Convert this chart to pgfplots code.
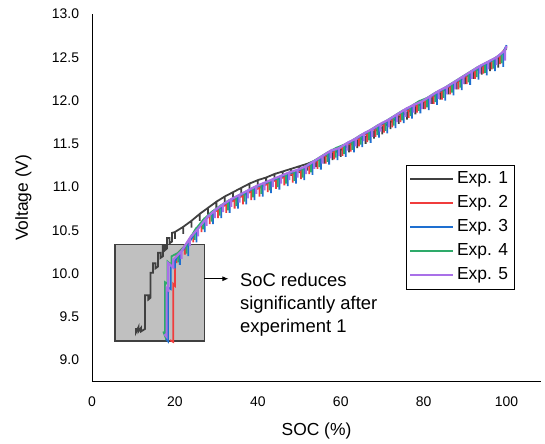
\documentclass[border=0pt]{standalone}
\usepackage{fontspec}
\setmainfont{Liberation Sans}
\usepackage{pgfplots}
\pgfplotsset{compat=1.18}
\usetikzlibrary{arrows.meta}

\definecolor{expone}{HTML}{404040}
\definecolor{exptwo}{HTML}{F03C3C}
\definecolor{expthree}{HTML}{1E6FD0}
\definecolor{expfour}{HTML}{2EAA6A}
\definecolor{expfive}{HTML}{A970E8}
\definecolor{boxgray}{HTML}{C0C0C0}

\begin{document}
\begin{tikzpicture}
\begin{axis}[
  name=ax,
  scale only axis,
  width=449bp, height=367.7bp,
  xmin=0, xmax=108.3,
  ymin=8.75, ymax=13.0,
  axis x line=bottom, axis y line=left,
  axis line style={-, line width=0.8pt, black},
  major tick length=0pt,
  xtick={0,20,40,60,80,100},
  ytick={9,9.5,10,10.5,11,11.5,12,12.5,13},
  /pgf/number format/assume math mode=true,
  tick label style={font=\fontsize{14}{16}\selectfont},
  yticklabel style={/pgf/number format/fixed, /pgf/number format/fixed zerofill,
    /pgf/number format/precision=1, inner sep=0pt, anchor=east, xshift=-12.7bp},
  xticklabel style={inner sep=0pt, anchor=center, yshift=-20bp},
  xlabel={SOC (\%)}, ylabel={Voltage (V)},
  label style={font=\fontsize{17.5}{20}\selectfont},
  x label style={at={(axis description cs:0.5,-0.134)}, anchor=center},
  y label style={at={(axis description cs:-0.1526,0.5)}, anchor=center},
  legend style={at={(0.9405,0.589)}, anchor=north east, draw=black,
    font=\fontsize{17.5}{20}\selectfont, row sep=0pt,
    nodes={text height=12.5bp, text depth=3.5bp, inner ysep=4bp, inner xsep=3bp}},
  legend cell align=left,
  legend image code/.code={\draw[#1] (0bp,0bp) -- (43bp,0bp);},
  legend image post style={line width=1.8pt},
]
% annotation box behind the curves
\draw[fill=boxgray, draw=expone, line width=1.2pt] (axis cs:5.54,9.22) rectangle (axis cs:27.06,10.34);

% Exp. 1
\addplot[expone, line width=1.8pt] coordinates {
(10.6,9.37) (10.6,9.32) (11.2,9.38) (11.2,9.33) (11.8,9.37) (11.8,9.33) (12.8,9.36) (12.8,9.75)
(13.6,9.75) (13.6,9.70) (14.1,9.72) (14.1,10.01) (14.7,10.01) (14.7,10.12) (15.3,10.12) (15.3,10.06)
(15.9,10.08) (15.9,10.24) (16.5,10.24) (16.5,10.18) (17.1,10.20) (17.1,10.33) (17.6,10.33) (17.6,10.27)
(18.1,10.29) (18.1,10.41) (18.7,10.41) (18.7,10.35) (19.3,10.37) (19.3,10.47)
(20,10.48) (20,10.40) (20,10.48) (22,10.54) (22,10.46) (22,10.54) (24,10.61) (24,10.53) (24,10.61)
(26,10.69) (26,10.61) (26,10.69) (28,10.76) (28,10.68) (28,10.76) (30,10.83) (30,10.75) (30,10.83)
(32,10.89) (32,10.81) (32,10.89) (34,10.94) (34,10.86) (34,10.94) (36,10.99) (36,10.91) (36,10.99)
(38,11.04) (38,10.96) (38,11.04) (40,11.08) (40,11.00) (40,11.08) (42,11.11) (42,11.03) (42,11.11)
(44,11.15) (44,11.07) (44,11.15) (46,11.18) (46,11.10) (46,11.18) (48,11.21) (48,11.13) (48,11.21)
(50,11.24) (50,11.16) (50,11.24) (52,11.27) (52,11.19) (52,11.27) (54,11.31) (54,11.23) (54,11.31)
(56,11.35) (56,11.27) (56,11.35) (58,11.39) (58,11.31) (58,11.39) (60,11.43) (60,11.35) (60,11.43)
(62,11.48) (62,11.40) (62,11.48) (64,11.53) (64,11.45) (64,11.53) (66,11.58) (66,11.50) (66,11.58)
(68,11.64) (68,11.56) (68,11.64) (70,11.69) (70,11.61) (70,11.69) (72,11.75) (72,11.67) (72,11.75)
(74,11.81) (74,11.73) (74,11.81) (76,11.86) (76,11.78) (76,11.86) (78,11.92) (78,11.84) (78,11.92)
(80,11.98) (80,11.90) (80,11.98) (82,12.04) (82,11.96) (82,12.04) (84,12.09) (84,12.01) (84,12.09)
(86,12.15) (86,12.07) (86,12.15) (88,12.21) (88,12.13) (88,12.21) (90,12.27) (90,12.19) (90,12.27)
(92,12.33) (92,12.25) (92,12.33) (94,12.39) (94,12.30) (94,12.39) (96,12.45) (96,12.34) (96,12.45)
(98,12.51) (98,12.38) (98,12.51) (100,12.60)
};
\addlegendentry{Exp. 1}

% Exp. 2
\addplot[exptwo, line width=1.8pt] coordinates {
(18.8,9.23) (19.6,9.21) (19.6,9.88) (20.0,9.86) (20.0,10.12)
(20.4,10.22) (20.4,10.12) (20.4,10.22) (22.4,10.32) (22.4,10.22) (22.4,10.32) (24.4,10.46) (24.4,10.36) (24.4,10.46)
(26.4,10.58) (26.4,10.48) (26.4,10.58) (28.4,10.67) (28.4,10.57) (28.4,10.67) (30.4,10.74) (30.4,10.64) (30.4,10.74)
(32.4,10.80) (32.4,10.70) (32.4,10.80) (34.4,10.85) (34.4,10.75) (34.4,10.85) (36.4,10.90) (36.4,10.80) (36.4,10.90)
(38.4,10.95) (38.4,10.85) (38.4,10.95) (40.4,10.99) (40.4,10.89) (40.4,10.99) (42.4,11.04) (42.4,10.94) (42.4,11.04)
(44.4,11.08) (44.4,10.98) (44.4,11.08) (46.4,11.12) (46.4,11.02) (46.4,11.12) (48.4,11.15) (48.4,11.05) (48.4,11.15)
(50.4,11.19) (50.4,11.09) (50.4,11.19) (52.4,11.25) (52.4,11.15) (52.4,11.25) (54.4,11.31) (54.4,11.21) (54.4,11.31)
(56.4,11.37) (56.4,11.27) (56.4,11.37) (58.4,11.42) (58.4,11.32) (58.4,11.42) (60.4,11.46) (60.4,11.36) (60.4,11.46)
(62.4,11.51) (62.4,11.41) (62.4,11.51) (64.4,11.57) (64.4,11.47) (64.4,11.57) (66.4,11.62) (66.4,11.52) (66.4,11.62)
(68.4,11.68) (68.4,11.58) (68.4,11.68) (70.4,11.73) (70.4,11.63) (70.4,11.73) (72.4,11.79) (72.4,11.69) (72.4,11.79)
(74.4,11.85) (74.4,11.75) (74.4,11.85) (76.4,11.90) (76.4,11.80) (76.4,11.90) (78.4,11.96) (78.4,11.86) (78.4,11.96)
(80.4,12.00) (80.4,11.90) (80.4,12.00) (82.4,12.06) (82.4,11.96) (82.4,12.06) (84.4,12.11) (84.4,12.01) (84.4,12.11)
(86.4,12.17) (86.4,12.07) (86.4,12.17) (88.4,12.23) (88.4,12.13) (88.4,12.23) (90.4,12.29) (90.4,12.19) (90.4,12.29)
(92.4,12.35) (92.4,12.25) (92.4,12.35) (94.4,12.41) (94.4,12.31) (94.4,12.41) (96.4,12.46) (96.4,12.36) (96.4,12.46)
(98.4,12.52) (98.4,12.42) (98.4,12.52) (100,12.62)
};
\addlegendentry{Exp. 2}

% Exp. 3
\addplot[expthree, line width=1.8pt] coordinates {
(17.8,9.25) (18.3,9.22) (18.3,9.84) (19.0,9.82) (19.0,10.10) (20.0,10.14) (20.0,10.06) (20.0,10.14)
(21.2,10.24) (21.2,10.10) (21.2,10.24) (23.2,10.34) (23.2,10.20) (23.2,10.34) (25.2,10.50) (25.2,10.36) (25.2,10.50)
(27.2,10.62) (27.2,10.48) (27.2,10.62) (29.2,10.71) (29.2,10.57) (29.2,10.71) (31.2,10.78) (31.2,10.64) (31.2,10.78)
(33.2,10.84) (33.2,10.70) (33.2,10.84) (35.2,10.89) (35.2,10.75) (35.2,10.89) (37.2,10.94) (37.2,10.80) (37.2,10.94)
(39.2,10.99) (39.2,10.85) (39.2,10.99) (41.2,11.03) (41.2,10.89) (41.2,11.03) (43.2,11.07) (43.2,10.93) (43.2,11.07)
(45.2,11.11) (45.2,10.97) (45.2,11.11) (47.2,11.15) (47.2,11.01) (47.2,11.15) (49.2,11.18) (49.2,11.04) (49.2,11.18)
(51.2,11.22) (51.2,11.08) (51.2,11.22) (53.2,11.28) (53.2,11.14) (53.2,11.28) (55.2,11.34) (55.2,11.20) (55.2,11.34)
(57.2,11.40) (57.2,11.26) (57.2,11.40) (59.2,11.45) (59.2,11.31) (59.2,11.45) (61.2,11.49) (61.2,11.35) (61.2,11.49)
(63.2,11.54) (63.2,11.40) (63.2,11.54) (65.2,11.60) (65.2,11.46) (65.2,11.60) (67.2,11.65) (67.2,11.51) (67.2,11.65)
(69.2,11.71) (69.2,11.57) (69.2,11.71) (71.2,11.76) (71.2,11.62) (71.2,11.76) (73.2,11.82) (73.2,11.68) (73.2,11.82)
(75.2,11.88) (75.2,11.74) (75.2,11.88) (77.2,11.93) (77.2,11.79) (77.2,11.93) (79.2,11.99) (79.2,11.85) (79.2,11.99)
(81.2,12.03) (81.2,11.89) (81.2,12.03) (83.2,12.09) (83.2,11.95) (83.2,12.09) (85.2,12.14) (85.2,12.00) (85.2,12.14)
(87.2,12.20) (87.2,12.06) (87.2,12.20) (89.2,12.26) (89.2,12.12) (89.2,12.26) (91.2,12.32) (91.2,12.18) (91.2,12.32)
(93.2,12.38) (93.2,12.24) (93.2,12.38) (95.2,12.43) (95.2,12.29) (95.2,12.43) (97.2,12.48) (97.2,12.34) (97.2,12.48)
(99.2,12.56) (99.2,12.39) (99.2,12.56) (100,12.64)
};
\addlegendentry{Exp. 3}

% Exp. 4
\addplot[expfour, line width=1.8pt] coordinates {
(17.2,9.33) (17.6,9.28) (17.6,9.90) (18.2,9.88) (18.2,10.14) (19.2,10.10) (19.2,10.20)
(20.8,10.24) (20.8,10.13) (20.8,10.24) (22.8,10.34) (22.8,10.23) (22.8,10.34) (24.8,10.50) (24.8,10.39) (24.8,10.50)
(26.8,10.62) (26.8,10.51) (26.8,10.62) (28.8,10.71) (28.8,10.60) (28.8,10.71) (30.8,10.78) (30.8,10.67) (30.8,10.78)
(32.8,10.84) (32.8,10.73) (32.8,10.84) (34.8,10.89) (34.8,10.78) (34.8,10.89) (36.8,10.94) (36.8,10.83) (36.8,10.94)
(38.8,10.99) (38.8,10.88) (38.8,10.99) (40.8,11.03) (40.8,10.92) (40.8,11.03) (42.8,11.07) (42.8,10.96) (42.8,11.07)
(44.8,11.11) (44.8,11.00) (44.8,11.11) (46.8,11.15) (46.8,11.04) (46.8,11.15) (48.8,11.18) (48.8,11.07) (48.8,11.18)
(50.8,11.22) (50.8,11.11) (50.8,11.22) (52.8,11.28) (52.8,11.17) (52.8,11.28) (54.8,11.34) (54.8,11.23) (54.8,11.34)
(56.8,11.40) (56.8,11.29) (56.8,11.40) (58.8,11.45) (58.8,11.34) (58.8,11.45) (60.8,11.49) (60.8,11.38) (60.8,11.49)
(62.8,11.54) (62.8,11.43) (62.8,11.54) (64.8,11.60) (64.8,11.49) (64.8,11.60) (66.8,11.65) (66.8,11.54) (66.8,11.65)
(68.8,11.71) (68.8,11.60) (68.8,11.71) (70.8,11.76) (70.8,11.65) (70.8,11.76) (72.8,11.82) (72.8,11.71) (72.8,11.82)
(74.8,11.88) (74.8,11.77) (74.8,11.88) (76.8,11.93) (76.8,11.82) (76.8,11.93) (78.8,11.99) (78.8,11.88) (78.8,11.99)
(80.8,12.03) (80.8,11.92) (80.8,12.03) (82.8,12.09) (82.8,11.98) (82.8,12.09) (84.8,12.14) (84.8,12.03) (84.8,12.14)
(86.8,12.20) (86.8,12.09) (86.8,12.20) (88.8,12.26) (88.8,12.15) (88.8,12.26) (90.8,12.32) (90.8,12.21) (90.8,12.32)
(92.8,12.38) (92.8,12.27) (92.8,12.38) (94.8,12.43) (94.8,12.32) (94.8,12.43) (96.8,12.48) (96.8,12.37) (96.8,12.48)
(98.8,12.54) (98.8,12.43) (98.8,12.54) (100,12.61)
};
\addlegendentry{Exp. 4}

% Exp. 5
\addplot[expfive, line width=2.2pt] coordinates {
(17.5,9.30) (18.0,9.27) (18.0,9.83) (18.4,9.81) (18.4,10.12) (19.6,10.07) (19.6,10.16)
(21.6,10.26) (21.6,10.17) (21.6,10.26) (23.6,10.41) (23.6,10.32) (23.6,10.41) (25.6,10.52) (25.6,10.43) (25.6,10.52)
(27.6,10.64) (27.6,10.55) (27.6,10.64) (29.6,10.73) (29.6,10.64) (29.6,10.73) (31.6,10.80) (31.6,10.71) (31.6,10.80)
(33.6,10.86) (33.6,10.77) (33.6,10.86) (35.6,10.91) (35.6,10.82) (35.6,10.91) (37.6,10.96) (37.6,10.87) (37.6,10.96)
(39.6,11.01) (39.6,10.92) (39.6,11.01) (41.6,11.05) (41.6,10.96) (41.6,11.05) (43.6,11.09) (43.6,11.00) (43.6,11.09)
(45.6,11.13) (45.6,11.04) (45.6,11.13) (47.6,11.17) (47.6,11.08) (47.6,11.17) (49.6,11.20) (49.6,11.11) (49.6,11.20)
(51.6,11.24) (51.6,11.15) (51.6,11.24) (53.6,11.30) (53.6,11.21) (53.6,11.30) (55.6,11.36) (55.6,11.27) (55.6,11.36)
(57.6,11.42) (57.6,11.33) (57.6,11.42) (59.6,11.45) (59.6,11.36) (59.6,11.45) (61.6,11.51) (61.6,11.42) (61.6,11.51)
(63.6,11.56) (63.6,11.47) (63.6,11.56) (65.6,11.62) (65.6,11.53) (65.6,11.62) (67.6,11.67) (67.6,11.58) (67.6,11.67)
(69.6,11.73) (69.6,11.64) (69.6,11.73) (71.6,11.78) (71.6,11.69) (71.6,11.78) (73.6,11.84) (73.6,11.75) (73.6,11.84)
(75.6,11.90) (75.6,11.81) (75.6,11.90) (77.6,11.95) (77.6,11.86) (77.6,11.95) (79.6,11.99) (79.6,11.90) (79.6,11.99)
(81.6,12.05) (81.6,11.96) (81.6,12.05) (83.6,12.11) (83.6,12.02) (83.6,12.11) (85.6,12.16) (85.6,12.07) (85.6,12.16)
(87.6,12.22) (87.6,12.13) (87.6,12.22) (89.6,12.28) (89.6,12.19) (89.6,12.28) (91.6,12.34) (91.6,12.25) (91.6,12.34)
(93.6,12.40) (93.6,12.31) (93.6,12.40) (95.6,12.45) (95.6,12.36) (95.6,12.45) (97.6,12.50) (97.6,12.41) (97.6,12.50)
(99.6,12.58) (99.6,12.46) (99.6,12.58) (100,12.63)
};
\addlegendentry{Exp. 5}

% annotation arrow and text
\draw[-{Latex[length=6bp,width=5bp]}, line width=0.8pt, black] (axis cs:27.06,9.94) -- (axis cs:32.9,9.94);
\node[anchor=west, align=left, inner sep=0pt, font=\fontsize{18.5}{23}\selectfont]
  at (axis cs:35.66,9.636) {SoC reduces\\significantly after\\experiment 1};
\end{axis}
\pgfresetboundingbox
\path (ax.south west) ++(-92bp,-62.3bp) rectangle ++(545bp,444bp);
\end{tikzpicture}
\end{document}
